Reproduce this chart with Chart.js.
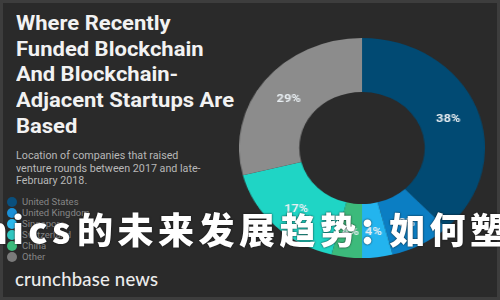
<!DOCTYPE html>
<html>
<head>
<meta charset="utf-8">
<script src="https://cdn.jsdelivr.net/npm/chart.js@4.4.1/dist/chart.umd.min.js"></script>
<style>
  html, body { margin:0; padding:0; }
  body { width:500px; height:300px; overflow:hidden; background:#2a2a2a; position:relative; font-family: Roboto, "Liberation Sans", sans-serif; }
  #frame { position:absolute; left:0; top:0; width:494px; height:294px; border:3px solid #3d3d3d; }
  #title { position:absolute; left:16px; top:11px; color:#f2f2f2; font-weight:700; font-size:20px; line-height:25.7px; transform:scaleX(1.1); transform-origin:left top; white-space:nowrap; }
  #sub { position:absolute; left:16px; top:150px; color:#b8b8b8; font-size:10.5px; line-height:12.5px; transform:scaleX(1.02); transform-origin:left top; white-space:nowrap; }
  #legend { position:absolute; left:7px; top:196px; }
  .li { height:11px; display:flex; align-items:center; font-size:9.5px; color:#858585; white-space:nowrap; }
  .dot { width:10px; height:10px; border-radius:50%; margin-right:5px; flex:none; }
  #brand { position:absolute; left:15px; top:268px; color:#ececec; font-family: Lato, "Open Sans", sans-serif; font-size:18.5px; font-weight:500; letter-spacing:0.2px; white-space:nowrap; }
  #wrap { position:absolute; left:252px; top:37.5px; width:220px; height:220px; transform:scaleX(1.118); transform-origin:center center; }
  #wm { position:absolute; left:-16px; top:202px; color:#ffffff; font-family:"Noto Sans CJK SC", sans-serif; font-weight:900; font-size:36px; letter-spacing:4.5px; white-space:nowrap; text-shadow:0 0 2px #111; }
  #wm .lat { margin-right:2px; }
  #wm .col { display:inline-block; margin-left:-2px; margin-right:-10px; }
</style>
</head>
<body>
<div id="frame"></div>
<div id="title">Where Recently<br>Funded Blockchain<br>And Blockchain-<br>Adjacent Startups Are<br>Based</div>
<div id="sub">Location of companies that raised<br>venture rounds between 2017 and late-<br>February 2018.</div>
<div id="legend"></div>
<div id="brand">crunchbase news</div>
<div id="wrap"><canvas id="c" width="220" height="220"></canvas></div>
<div id="wm"><span class="lat">nics</span>的未来发展趋势<span class="col">：</span>如何塑造</div>
<script>
const categories = ['United States', 'United Kingdom', 'Singapore', 'Switzerland', 'China', 'Other'];
const shares = [38, 8, 4, 4, 17, 29];
const sliceColors = ['#014a73', '#0b7ec3', '#23b4ee', '#3cba7b', '#1fd5c5', '#8c8c8c'];
const legendColors = ['#0a4f7c', '#1a8fd6', '#2ab8ec', '#2fc6c0', '#3cba7b', '#7a7a7a'];
const valueLabels = shares.map(v => v + '%');

const legend = document.getElementById('legend');
categories.forEach((name, i) => {
  const row = document.createElement('div');
  row.className = 'li';
  const d = document.createElement('span');
  d.className = 'dot';
  d.style.background = legendColors[i];
  row.appendChild(d);
  row.appendChild(document.createTextNode(name));
  legend.appendChild(row);
});

const sliceLabels = {
  id: 'sliceLabels',
  afterDatasetsDraw(chart) {
    const ctx = chart.ctx;
    const meta = chart.getDatasetMeta(0);
    ctx.save();
    ctx.font = 'bold 11.5px Roboto, "Liberation Sans", sans-serif';
    ctx.fillStyle = '#e8eef2';
    ctx.textAlign = 'center';
    ctx.textBaseline = 'middle';
    meta.data.forEach((arc, i) => {
      const p = arc.tooltipPosition();
      ctx.fillText(valueLabels[i], p.x, p.y + 2);
    });
    ctx.restore();
  }
};

new Chart(document.getElementById('c'), {
  type: 'doughnut',
  data: {
    labels: categories,
    datasets: [{ data: shares, backgroundColor: sliceColors, borderWidth: 0 }]
  },
  options: {
    responsive: false,
    animation: false,
    devicePixelRatio: 1,
    cutout: '51%',
    layout: { padding: 0 },
    plugins: { legend: { display: false }, tooltip: { enabled: false } }
  },
  plugins: [sliceLabels]
});
</script>
</body>
</html>
